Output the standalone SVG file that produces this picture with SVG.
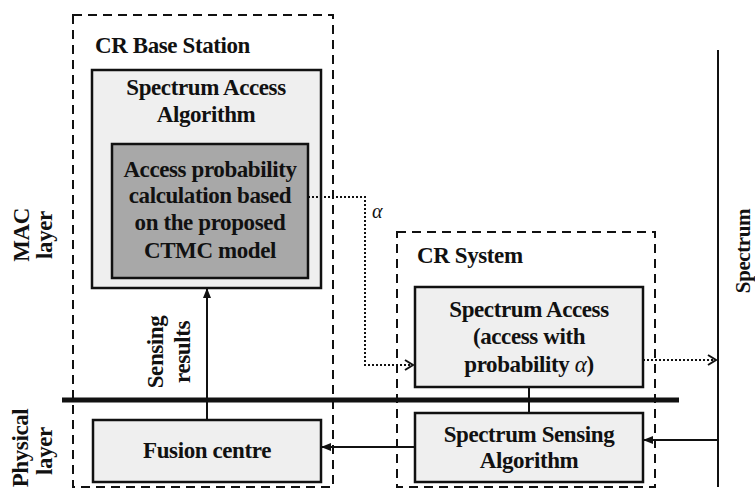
<svg xmlns="http://www.w3.org/2000/svg" width="755" height="492" viewBox="0 0 755 492">
<defs>
<style>
text{font-family:"Liberation Serif","Times New Roman",serif;font-weight:bold;font-size:23px;letter-spacing:-0.4px;fill:#111}
.c{text-anchor:middle}
.dash{fill:none;stroke:#111;stroke-width:2;stroke-dasharray:9 6}
.box{fill:#efefef;stroke:#111;stroke-width:2.5}
.dark{fill:#a8a8a8;stroke:#111;stroke-width:2.5}
.ln{fill:none;stroke:#111;stroke-width:2}
.dot{fill:none;stroke:#111;stroke-width:2;stroke-dasharray:2 2}
</style>
<marker id="fa" markerWidth="10" markerHeight="8" refX="9" refY="4" orient="auto" markerUnits="userSpaceOnUse">
<path d="M0,0 L10,4 L0,8 Z" fill="#111"/>
</marker>
<marker id="oa" markerWidth="12" markerHeight="12" refX="10" refY="6" orient="auto" markerUnits="userSpaceOnUse">
<path d="M2,1 L10,6 L2,11" fill="none" stroke="#111" stroke-width="2"/>
</marker>
</defs>
<rect width="755" height="492" fill="#fff"/>

<g id="base-station">
<rect class="dash" x="73" y="15" width="260" height="472"/>
<text x="95" y="53">CR Base Station</text>
</g>
<g id="spectrum-access-algorithm">
<rect class="box" x="92" y="70" width="229" height="218"/>
<text class="c" x="206" y="95">Spectrum Access</text>
<text class="c" x="206" y="122">Algorithm</text>
</g>
<g id="access-probability">
<rect class="dark" x="112" y="144" width="196" height="134"/>
<text class="c" x="210" y="177">Access probability</text>
<text class="c" x="210" y="203">calculation based</text>
<text class="c" x="210" y="230">on the proposed</text>
<text class="c" x="210" y="258">CTMC model</text>
</g>
<g id="fusion-centre">
<rect class="box" x="93" y="420" width="228" height="62"/>
<text class="c" x="207" y="458">Fusion centre</text>
</g>
<g id="cr-system">
<rect class="dash" x="397" y="232" width="258" height="255"/>
<text x="417" y="263">CR System</text>
</g>
<g id="spectrum-access">
<rect class="box" x="415" y="287" width="228" height="100"/>
<text class="c" x="529" y="317">Spectrum Access</text>
<text class="c" x="529" y="344">(access with</text>
<text class="c" x="529" y="372">probability <tspan style="font-style:italic;font-weight:normal">α</tspan>)</text>
</g>
<g id="spectrum-sensing">
<rect class="box" x="415" y="413" width="228" height="69"/>
<text class="c" x="529" y="442">Spectrum Sensing</text>
<text class="c" x="529" y="468">Algorithm</text>
</g>
<g id="spectrum">
<line class="ln" x1="718" y1="50" x2="718" y2="487"/>
<text class="c" transform="translate(750,251) rotate(-90)" style="font-size:21px">Spectrum</text>
</g>
<g id="layers">
<line x1="62" y1="400" x2="679" y2="400" stroke="#111" stroke-width="5"/>
<text class="c" transform="translate(29,235) rotate(-90)">MAC</text>
<text class="c" transform="translate(52,235) rotate(-90)">layer</text>
<text class="c" transform="translate(28,448) rotate(-90)">Physical</text>
<text class="c" transform="translate(52,451) rotate(-90)">layer</text>
</g>
<g id="connectors">
<line class="ln" x1="207" y1="420" x2="207" y2="289" marker-end="url(#fa)"/>
<text class="c" transform="translate(163,352) rotate(-90)">Sensing</text>
<text class="c" transform="translate(190,352) rotate(-90)">results</text>
<path class="dot" d="M308,197 H365 V365 H413" marker-end="url(#oa)"/>
<text x="372" y="218" style="font-style:italic;font-weight:normal;font-size:20px">α</text>
<path class="dot" d="M643,360 H716" marker-end="url(#oa)"/>
<line class="ln" x1="529" y1="387" x2="529" y2="413"/>
<line class="ln" x1="718" y1="440" x2="644" y2="440" marker-end="url(#fa)"/>
<line class="ln" x1="415" y1="447" x2="322" y2="447" marker-end="url(#fa)"/>
</g>
</svg>
